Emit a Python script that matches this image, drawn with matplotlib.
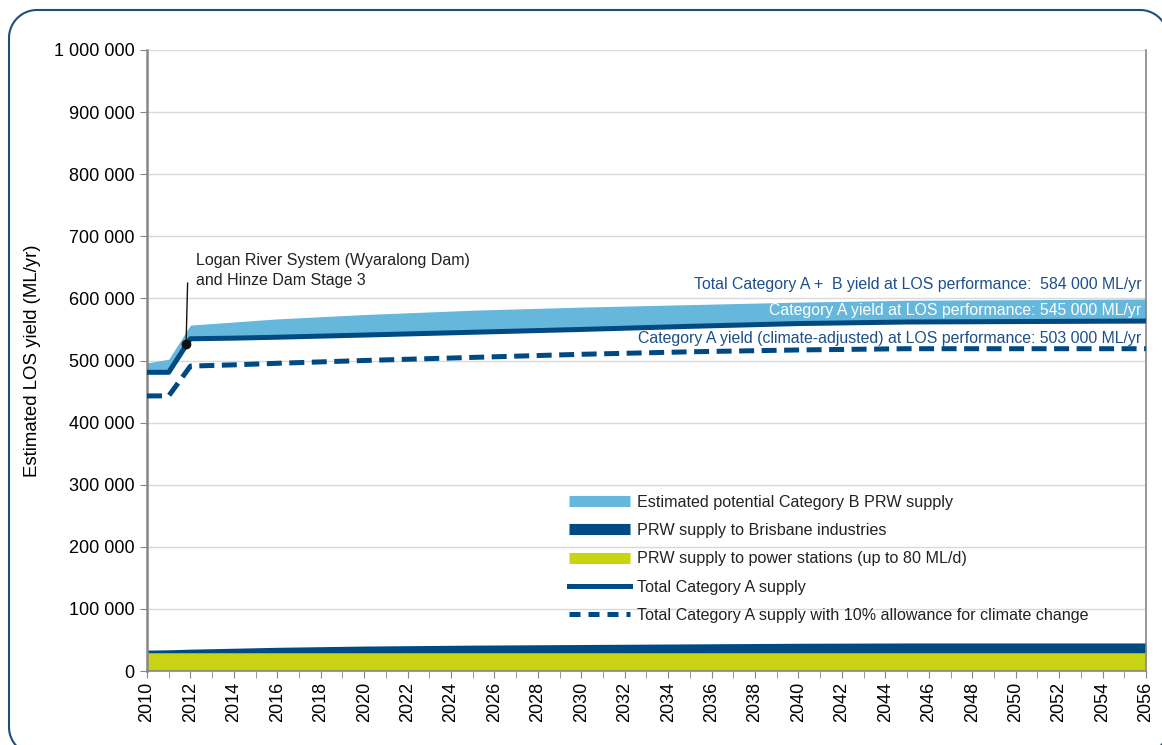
import matplotlib
matplotlib.use("Agg")
import numpy as np
from matplotlib import pyplot as plt
from matplotlib.lines import Line2D
from matplotlib.transforms import IdentityTransform
from matplotlib.ticker import FuncFormatter, MultipleLocator

plt.rcParams['font.family'] = ['Liberation Sans', 'DejaVu Sans']

# supply yield by year (ML/yr)
years = [2010, 2011, 2012, 2014, 2016, 2020, 2025, 2030, 2035, 2040, 2045, 2056]
power_stations = [29200] * len(years)
industries = [4500, 5000, 6000, 7500, 9000, 11000, 12500, 13500, 14500, 15500, 16000, 16000]
total_cat_a = [481000, 481000, 535000, 536000, 537500, 541000, 545500, 550000, 555000, 559500, 562000, 563500]
cat_b_top = [496000, 502000, 557000, 562000, 567000, 574000, 581000, 586000, 590000, 594000, 597000, 599000]
climate_adj = [443000, 443000, 491000, 493000, 495500, 500000, 505000, 510000, 514000, 517000, 519000, 519000]

right_labels = ["Total Category A +  B yield at LOS performance:  584 000 ML/yr",
                "Category A yield at LOS performance: 545 000 ML/yr",
                "Category A yield (climate-adjusted) at LOS performance: 503 000 ML/yr"]

light_blue = '#65b7dc'
navy = '#004a84'
lime = '#c8d312'
label_blue = '#1d4f8b'

fig = plt.figure(figsize=(11.62, 7.45), dpi=100)
ax = fig.add_axes([0.1265, 0.0993, 0.8597, 0.8336])

# stacked PRW supply at the bottom
stack_top = [p + i for p, i in zip(power_stations, industries)]
ax.fill_between(years, 0, power_stations, color=lime, lw=0, zorder=2)
ax.fill_between(years, power_stations, stack_top, color=navy, lw=0, zorder=2)
ax.plot(years, power_stations, color='#9aa3a8', lw=0.6, zorder=3)

# category B band above the category A line
ax.fill_between(years, total_cat_a, cat_b_top, color=light_blue, lw=0, zorder=2)
ax.plot(years, total_cat_a, color=navy, lw=3.6, zorder=4, solid_capstyle='butt')
ax.plot(years, climate_adj, color=navy, lw=3.6, ls=(0, (3.0, 1.5)), zorder=4)

ax.set_xlim(2010, 2056)
ax.set_ylim(0, 1000000)
ax.xaxis.set_major_locator(MultipleLocator(2))
ax.xaxis.set_minor_locator(MultipleLocator(1))
ax.yaxis.set_major_locator(MultipleLocator(100000))
ax.yaxis.set_major_formatter(FuncFormatter(lambda v, p: f"{int(v):,}".replace(',', ' ')))
ax.tick_params(axis='x', which='both', length=5, color='#868686', labelsize=13,
               labelrotation=90, pad=3)
ax.tick_params(axis='y', length=5, color='#868686', labelsize=13, pad=4)
ax.grid(axis='y', color='#d9d9d9', lw=1, zorder=0)
ax.set_axisbelow(True)
for side in ['left', 'bottom', 'right']:
    ax.spines[side].set_color('#868686')
ax.spines['left'].set_linewidth(1.8)
ax.spines['bottom'].set_linewidth(1.2)
ax.spines['right'].set_linewidth(1.2)
ax.spines['top'].set_visible(False)
ax.set_ylabel('Estimated LOS yield (ML/yr)', fontsize=13.4, labelpad=9)

# yield labels at the right
ax.text(2055.8, 623000, right_labels[0], ha='right', va='center', fontsize=11.4, color=label_blue, zorder=5)
ax.text(2055.8, 581000, right_labels[1], ha='right', va='center', fontsize=11.4, color='white', zorder=5)
ax.text(2055.8, 536000, right_labels[2], ha='right', va='center', fontsize=11.4, color=label_blue, zorder=5)

# dam annotation
ax.plot([2011.8], [527000], 'o', color='#111111', ms=6, zorder=6)
ax.annotate('', xy=(2011.8, 527000), xytext=(2011.87, 625000),
            arrowprops=dict(arrowstyle='-', color='#111111', lw=1, shrinkA=0, shrinkB=0))
ax.text(2012.25, 616000, "Logan River System (Wyaralong Dam)\nand Hinze Dam Stage 3",
        fontsize=11.5, color='#222222', ha='left', va='bottom', linespacing=1.45)

handles = [Line2D([], [], color=light_blue, lw=8, solid_capstyle='butt'),
           Line2D([], [], color=navy, lw=8, solid_capstyle='butt'),
           Line2D([], [], color=lime, lw=8, solid_capstyle='butt'),
           Line2D([], [], color=navy, lw=3.6),
           Line2D([], [], color=navy, lw=3.6, ls=(0, (2.2, 1.6)))]
labels = ['Estimated potential Category B PRW supply',
          'PRW supply to Brisbane industries',
          'PRW supply to power stations (up to 80 ML/d)',
          'Total Category A supply',
          'Total Category A supply with 10% allowance for climate change']
leg = ax.legend(handles, labels, loc='upper left', bbox_to_anchor=(0.416, 0.294),
                frameon=False, fontsize=11.6, handlelength=3.8, handletextpad=0.45,
                labelspacing=0.82, borderaxespad=0)
for t in leg.get_texts():
    t.set_color('#222222')

# rounded frame around the figure, in pixels (origin bottom-left)
x0, x1, y0, y1, r = 9, 1168, -10, 735, 28
th = np.linspace(0, np.pi / 2, 30)
fx = np.concatenate([x1 - r + r * np.cos(th),                 # top-right
                     x0 + r - r * np.sin(th),                 # top-left
                     x0 + r - r * np.cos(th),                 # bottom-left
                     x1 - r + r * np.sin(th), [x1 - r + r]])  # bottom-right
fy = np.concatenate([y1 - r + r * np.sin(th),
                     y1 - r + r * np.cos(th),
                     y0 + r - r * np.sin(th),
                     y0 + r - r * np.cos(th), [y1 - r]])
fig.add_artist(Line2D(fx, fy, transform=IdentityTransform(), color='#1f4e79', lw=1.5))

fig.savefig('out.png', dpi=100)
